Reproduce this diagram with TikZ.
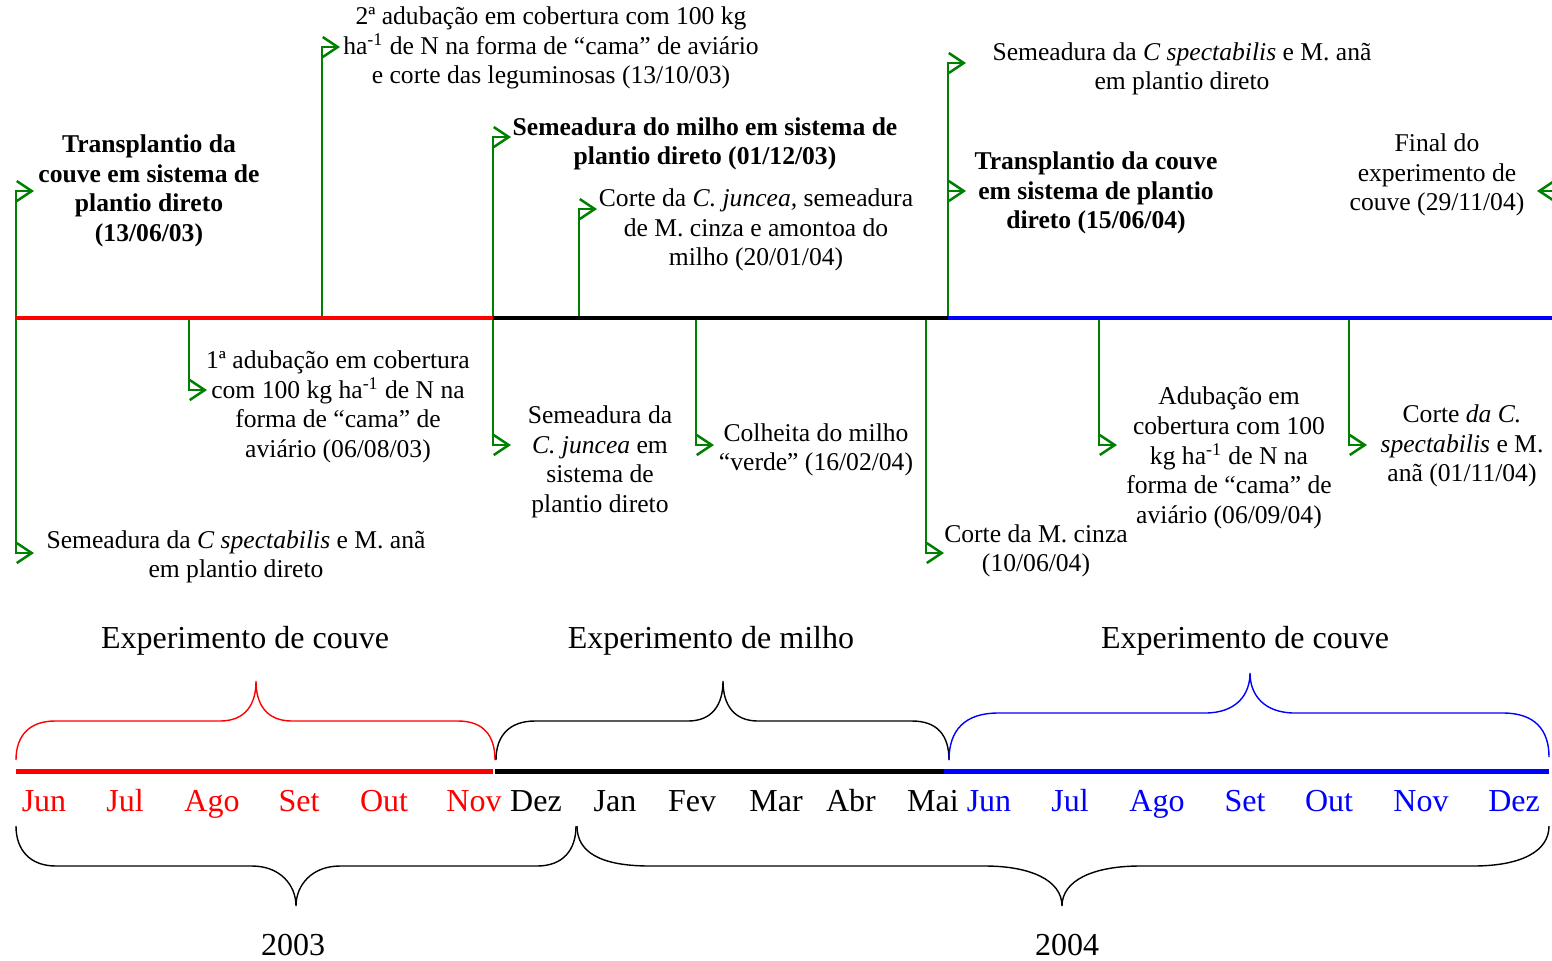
\documentclass[tikz,border=0pt]{standalone}
\usepackage{fontspec}
\setmainfont{Liberation Serif}
\usetikzlibrary{arrows.meta}
\definecolor{evgreen}{RGB}{0,128,0}
\begin{document}
\begin{tikzpicture}[x=0.5pt,y=-0.5pt,
  conn/.style={draw=evgreen, line width=1.25pt, -{Straight Barb[length=7.5pt,width=10pt,line width=1.25pt]}},
  evt/.style={align=center, inner sep=0pt, font=\fontsize{12.8}{14.8}\selectfont},
  evtb/.style={align=center, inner sep=0pt, font=\fontsize{12.8}{14.8}\selectfont\bfseries},
  tline/.style={line width=2.4pt},
  brace/.style={line width=0.7pt},
  big/.style={anchor=base, inner sep=0pt, font=\fontsize{16}{19}\selectfont},
]
\useasboundingbox (0,0) rectangle (1552,960);

% ---------- event texts ----------
\node[evtb] (n1)  at (149,191)  {Transplantio da\\couve em sistema de\\plantio direto\\(13/06/03)};
\node[evt]  (n2)  at (551,48)   {2ª adubação em cobertura com 100 kg\\ha\textsuperscript{-1} de N na forma de “cama” de aviário\\e corte das leguminosas (13/10/03)};
\node[evtb] (n3)  at (705,144)  {Semeadura do milho em sistema de\\plantio direto (01/12/03)};
\node[evt]  (n4)  at (756,230)  {Corte da \textit{C. juncea,} semeadura\\de M. cinza e amontoa do\\milho (20/01/04)};
\node[evt]  (n5)  at (1182,69)  {Semeadura da \textit{C spectabilis} e M. anã\\em plantio direto};
\node[evtb] (n6)  at (1096,193) {Transplantio da couve\\em sistema de plantio\\direto (15/06/04)};
\node[evt]  (n7)  at (1437,175) {Final do\\experimento de\\couve (29/11/04)};
\node[evt]  (n8)  at (236,557)  {Semeadura da \textit{C spectabilis} e M. anã\\em plantio direto};
\node[evt]  (n9)  at (338,407)  {1ª adubação em cobertura\\com 100 kg ha\textsuperscript{-1} de N na\\forma de “cama” de\\aviário (06/08/03)};
\node[evt]  (n10) at (600,462)  {Semeadura da\\\textit{C. juncea} em\\sistema de\\plantio direto};
\node[evt]  (n11) at (816,450)  {Colheita do milho\\“verde” (16/02/04)};
\node[evt]  (n12) at (1036,551) {Corte da M. cinza\\(10/06/04)};
\node[evt]  (n13) at (1229,458) {Adubação em\\cobertura com 100\\kg ha\textsuperscript{-1} de N na\\forma de “cama” de\\aviário (06/09/04)};
\node[evt]  (n14) at (1462,446) {Corte \textit{da C.}\\\textit{spectabilis} e M.\\anã (01/11/04)};

% ---------- connector anchors ----------
\coordinate (p16)   at (16,318);
\coordinate (p189)  at (189,318);
\coordinate (p322)  at (322,318);
\coordinate (p493)  at (493,318);
\coordinate (p579)  at (579,318);
\coordinate (p696)  at (696,318);
\coordinate (p926)  at (926,318);
\coordinate (p948)  at (948,318);
\coordinate (p1099) at (1099,318);
\coordinate (p1349) at (1349,318);
\coordinate (pfr)   at (1555,191);

\coordinate (a1)  at (34,191);
\coordinate (a8)  at (34,553);
\coordinate (a9)  at (207,390);
\coordinate (a2)  at (340,47);
\coordinate (a3)  at (511,137);
\coordinate (a10) at (511,445);
\coordinate (a4)  at (597,209);
\coordinate (a11) at (714,445);
\coordinate (a12) at (944,553);
\coordinate (a5)  at (966,63);
\coordinate (a6)  at (966,191);
\coordinate (a13) at (1117,445);
\coordinate (a14) at (1367,445);
\coordinate (a7)  at (1537,191);

\draw[conn] (p16) |- (a1);
\draw[conn] (p16) |- (a8);
\draw[conn] (p189) |- (a9);
\draw[conn] (p322) |- (a2);
\draw[conn] (p493) |- (a3);
\draw[conn] (p493) |- (a10);
\draw[conn] (p579) |- (a4);
\draw[conn] (p696) |- (a11);
\draw[conn] (p926) |- (a12);
\draw[conn] (p948) |- (a5);
\draw[conn] (p948) |- (a6);
\draw[conn] (p1099) |- (a13);
\draw[conn] (p1349) |- (a14);
\draw[conn] (pfr) -- (a7);

% ---------- top timeline ----------
\draw[tline, red]   (16,318) -- (493,318);
\draw[tline, black] (493,318) -- (948,318);
\draw[tline, blue]  (948,318) -- (1552,318);

% ---------- experiment labels ----------
\node[big] (e1) at (245,648)  {Experimento de couve};
\node[big] (e2) at (711,648)  {Experimento de milho};
\node[big] (e3) at (1245,648) {Experimento de couve};

% ---------- upper braces ----------
\draw[brace, red] (16,760) .. controls (16,735) and (30,721) .. (55,721) -- (220,721)
  .. controls (245,721) and (256,705) .. (256,681)
  .. controls (256,705) and (267,721) .. (292,721) -- (458,721)
  .. controls (483,721) and (495,735) .. (495,760);
\draw[brace, black] (496,760) .. controls (496,735) and (510,721) .. (535,721) -- (688,721)
  .. controls (712,721) and (723,705) .. (723,681)
  .. controls (723,705) and (734,721) .. (758,721) -- (912,721)
  .. controls (937,721) and (949,735) .. (949,760);
\draw[brace, blue] (949,760) .. controls (949,730) and (965,713) .. (998,713) -- (1205,713)
  .. controls (1236,713) and (1250,695) .. (1250,673)
  .. controls (1250,695) and (1264,713) .. (1295,713) -- (1503,713)
  .. controls (1535,713) and (1549,730) .. (1549,757);

% ---------- bottom timeline ----------
\draw[tline, line width=2.5pt, red]   (16,771) -- (493,771);
\draw[tline, line width=2.5pt, black] (495,771) -- (944,771);
\draw[tline, line width=2.5pt, blue]  (944,771) -- (1549,771);

% ---------- months ----------
\foreach \m/\x in {Jun/44, Jul/125, Ago/212, Set/299, Out/384, Nov/474}
  \node[big, red] (mr\x) at (\x,811) {\m};
\foreach \m/\x in {Dez/536, Jan/615, Fev/692, Mar/776, Abr/851, Mai/933}
  \node[big, black] (mk\x) at (\x,811) {\m};
\foreach \m/\x in {Jun/989, Jul/1070, Ago/1157, Set/1245, Out/1329, Nov/1421, Dez/1514}
  \node[big, blue] (mb\x) at (\x,811) {\m};

% ---------- year braces ----------
\draw[brace] (16,826) .. controls (16,850) and (30,866) .. (56,866) -- (252,866)
  .. controls (280,866) and (296,885) .. (296,906)
  .. controls (296,885) and (312,866) .. (340,866) -- (537,866)
  .. controls (563,866) and (576,850) .. (576,826);
\draw[brace] (577,826) .. controls (577,852) and (600,866) .. (650,866) -- (985,866)
  .. controls (1030,866) and (1062,880) .. (1062,906)
  .. controls (1062,880) and (1094,866) .. (1140,866) -- (1473,866)
  .. controls (1520,866) and (1549,852) .. (1549,826);

\node[big] (y1) at (293,955)  {2003};
\node[big] (y2) at (1067,955) {2004};
\end{tikzpicture}
\end{document}
